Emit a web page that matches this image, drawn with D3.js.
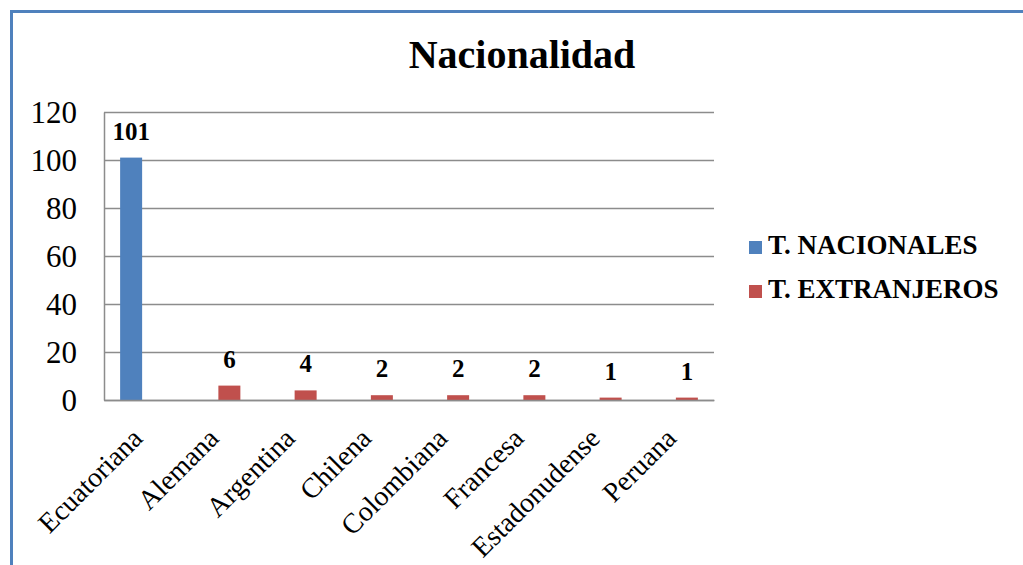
<!DOCTYPE html>
<html>
<head>
<meta charset="utf-8">
<script src="https://cdn.jsdelivr.net/npm/d3@7"></script>
<style>
  body { margin: 0; background: #fff; }
  svg { display: block; }
  text { font-family: "Liberation Serif", "Times New Roman", serif; }
</style>
</head>
<body>
<div id="chart"></div>
<script>
// datos
var categorias = ["Ecuatoriana", "Alemana", "Argentina", "Chilena", "Colombiana", "Francesa", "Estadonudense", "Peruana"];
var nacionales = [101, 0, 0, 0, 0, 0, 0, 0];
var extranjeros = [0, 6, 4, 2, 2, 2, 1, 1];
var yTicks = [0, 20, 40, 60, 80, 100, 120];
var series = [
  {name: "T. NACIONALES", values: nacionales, color: "#4f81bd"},
  {name: "T. EXTRANJEROS", values: extranjeros, color: "#c0504d"}
];

var W = 1023, H = 565;
var FONT = "Liberation Serif";
var plot = {left: 104, top: 112, right: 714, bottom: 400};

var svg = d3.select("#chart").append("svg")
    .attr("width", W)
    .attr("height", H);

// marco azul (solo izquierda y arriba visibles)
svg.append("path")
    .attr("d", "M11.5," + H + "V11.5H" + W)
    .attr("fill", "none")
    .attr("stroke", "#4f81bd")
    .attr("stroke-width", 3);

svg.append("text")
    .attr("x", 522)
    .attr("y", 68)
    .attr("text-anchor", "middle")
    .attr("font-family", FONT)
    .attr("font-size", 40)
    .attr("font-weight", "bold")
    .text("Nacionalidad");

var x = d3.scaleBand()
    .domain(categorias)
    .range([plot.left, plot.right]);

var y = d3.scaleLinear()
    .domain([0, 120])
    .range([plot.bottom, plot.top]);

var barW = 22;

// lineas de cuadricula
svg.append("g")
    .selectAll("line")
    .data(yTicks)
    .enter().append("line")
    .attr("x1", plot.left)
    .attr("x2", plot.right)
    .attr("y1", function(d) { return Math.round(y(d)) + 0.5; })
    .attr("y2", function(d) { return Math.round(y(d)) + 0.5; })
    .attr("stroke", "#8c8c8c")
    .attr("stroke-width", 1.5);

// eje y
var yAxis = svg.append("g")
    .attr("transform", "translate(" + plot.left + ",0)")
    .call(d3.axisLeft(y).tickValues(yTicks).tickSize(0).tickPadding(27));
yAxis.attr("font-family", FONT);
yAxis.select(".domain").attr("stroke", "#8c8c8c").attr("stroke-width", 1.5);
yAxis.selectAll("text")
    .attr("font-size", 31)
    .attr("fill", "#000")
    .attr("dy", "0.34em");

// barras
series.forEach(function(s, si) {
  var g = svg.append("g");
  g.selectAll("rect")
    .data(s.values)
    .enter().append("rect")
    .attr("x", function(d, i) { return x(categorias[i]) + x.bandwidth() / 2 + (si - 1) * barW; })
    .attr("y", function(d) { return y(d); })
    .attr("width", barW)
    .attr("height", function(d) { return y(0) - y(d); })
    .attr("fill", s.color);

  // etiquetas de datos (solo valores > 0)
  g.selectAll("text.lbl")
    .data(s.values.map(function(v, i) { return {v: v, i: i}; }).filter(function(d) { return d.v > 0; }))
    .enter().append("text")
    .attr("class", "lbl")
    .attr("x", function(d) { return x(categorias[d.i]) + x.bandwidth() / 2 + (si - 0.5) * barW; })
    .attr("y", function(d) { return y(d.v) - 18; })
    .attr("text-anchor", "middle")
    .attr("font-family", FONT)
    .attr("font-size", 25)
    .attr("font-weight", "bold")
    .text(function(d) { return d.v; });
});

// eje x
var xAxis = svg.append("g")
    .attr("transform", "translate(0," + plot.bottom + ")")
    .call(d3.axisBottom(x).tickSize(0).tickPadding(0));
xAxis.attr("font-family", FONT);
xAxis.select(".domain").attr("stroke", "#8c8c8c").attr("stroke-width", 1.5);
xAxis.selectAll("text")
    .attr("font-size", 28)
    .attr("fill", "#000")
    .attr("text-anchor", "end")
    .attr("dy", null)
    .attr("y", 0)
    .attr("transform", "translate(2,40) rotate(-45)");

// leyenda
var legend = svg.append("g")
    .selectAll("g")
    .data(series)
    .enter().append("g")
    .attr("transform", function(d, i) { return "translate(749," + (241 + i * 44) + ")"; });
legend.append("rect")
    .attr("width", 13)
    .attr("height", 13)
    .attr("fill", function(d) { return d.color; });
legend.append("text")
    .attr("x", 19)
    .attr("y", 13)
    .attr("font-family", FONT)
    .attr("font-size", 27)
    .attr("font-weight", "bold")
    .text(function(d) { return d.name; });
</script>
</body>
</html>
